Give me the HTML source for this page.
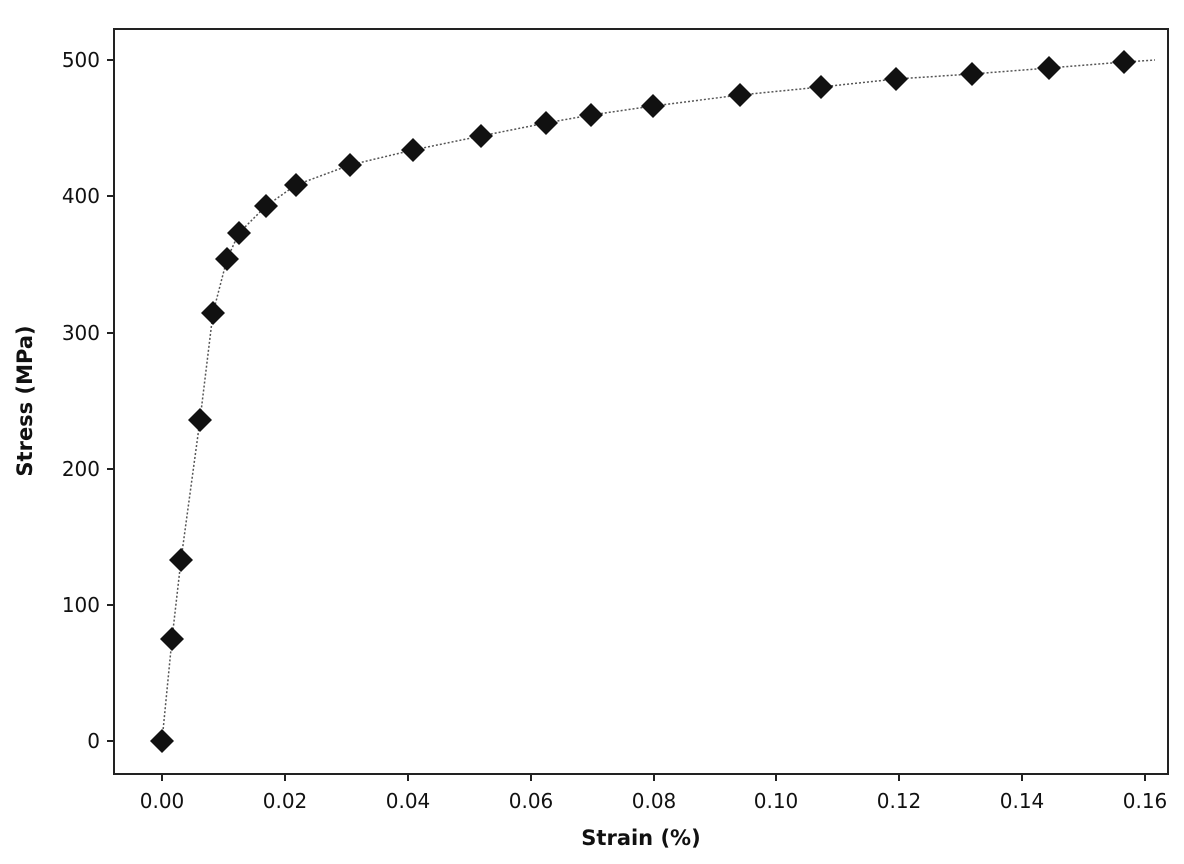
<!DOCTYPE html><html><head><style>body{margin:0;background:#fff}svg{display:block}text{font-family:"DejaVu Sans","Liberation Sans",sans-serif;fill:#111}</style></head><body>
<svg width="1184" height="864" xmlns="http://www.w3.org/2000/svg">
<rect x="114" y="29" width="1054" height="745" fill="none" stroke="#222" stroke-width="2"/>
<g stroke="#222" stroke-width="2">
<line x1="162" y1="774" x2="162" y2="781"/><line x1="285" y1="774" x2="285" y2="781"/><line x1="408" y1="774" x2="408" y2="781"/><line x1="531" y1="774" x2="531" y2="781"/><line x1="654" y1="774" x2="654" y2="781"/><line x1="776" y1="774" x2="776" y2="781"/><line x1="899" y1="774" x2="899" y2="781"/><line x1="1022" y1="774" x2="1022" y2="781"/><line x1="1145" y1="774" x2="1145" y2="781"/>
<line x1="107" y1="741" x2="114" y2="741"/><line x1="107" y1="605" x2="114" y2="605"/><line x1="107" y1="469" x2="114" y2="469"/><line x1="107" y1="333" x2="114" y2="333"/><line x1="107" y1="196" x2="114" y2="196"/><line x1="107" y1="60" x2="114" y2="60"/>
</g>
<g font-size="20" text-anchor="middle">
<text x="162" y="808">0.00</text><text x="285" y="808">0.02</text><text x="408" y="808">0.04</text><text x="531" y="808">0.06</text><text x="654" y="808">0.08</text><text x="776" y="808">0.10</text><text x="899" y="808">0.12</text><text x="1022" y="808">0.14</text><text x="1145" y="808">0.16</text>
</g>
<g font-size="20" text-anchor="end">
<text x="100" y="748">0</text><text x="100" y="612">100</text><text x="100" y="476">200</text><text x="100" y="340">300</text><text x="100" y="203">400</text><text x="100" y="67">500</text>
</g>
<text x="641" y="845" font-size="21" font-weight="bold" text-anchor="middle">Strain (%)</text>
<text transform="translate(32,401) rotate(-90)" font-size="21" font-weight="bold" text-anchor="middle">Stress (MPa)</text>
<polyline fill="none" stroke="#555" stroke-width="1.5" stroke-dasharray="2,2" points="162,741 172,639 181,560 200,420 213,313 227,259 239,233 266,206 296,185 350,165 413,150 481,136 546,123 591,115 653,106 740,95 821,87 896,79 972,74 1049,68 1124,62 1155,60"/>
<g fill="#111">
<path id="d" d="M0,-12 L12,0 L0,12 L-12,0Z" transform="translate(162,741)"/>
<path d="M0,-12 L12,0 L0,12 L-12,0Z" transform="translate(172,639)"/>
<path d="M0,-12 L12,0 L0,12 L-12,0Z" transform="translate(181,560)"/>
<path d="M0,-12 L12,0 L0,12 L-12,0Z" transform="translate(200,420)"/>
<path d="M0,-12 L12,0 L0,12 L-12,0Z" transform="translate(213,313)"/>
<path d="M0,-12 L12,0 L0,12 L-12,0Z" transform="translate(227,259)"/>
<path d="M0,-12 L12,0 L0,12 L-12,0Z" transform="translate(239,233)"/>
<path d="M0,-12 L12,0 L0,12 L-12,0Z" transform="translate(266,206)"/>
<path d="M0,-12 L12,0 L0,12 L-12,0Z" transform="translate(296,185)"/>
<path d="M0,-12 L12,0 L0,12 L-12,0Z" transform="translate(350,165)"/>
<path d="M0,-12 L12,0 L0,12 L-12,0Z" transform="translate(413,150)"/>
<path d="M0,-12 L12,0 L0,12 L-12,0Z" transform="translate(481,136)"/>
<path d="M0,-12 L12,0 L0,12 L-12,0Z" transform="translate(546,123)"/>
<path d="M0,-12 L12,0 L0,12 L-12,0Z" transform="translate(591,115)"/>
<path d="M0,-12 L12,0 L0,12 L-12,0Z" transform="translate(653,106)"/>
<path d="M0,-12 L12,0 L0,12 L-12,0Z" transform="translate(740,95)"/>
<path d="M0,-12 L12,0 L0,12 L-12,0Z" transform="translate(821,87)"/>
<path d="M0,-12 L12,0 L0,12 L-12,0Z" transform="translate(896,79)"/>
<path d="M0,-12 L12,0 L0,12 L-12,0Z" transform="translate(972,74)"/>
<path d="M0,-12 L12,0 L0,12 L-12,0Z" transform="translate(1049,68)"/>
<path d="M0,-12 L12,0 L0,12 L-12,0Z" transform="translate(1124,62)"/>
</g>
</svg></body></html>
